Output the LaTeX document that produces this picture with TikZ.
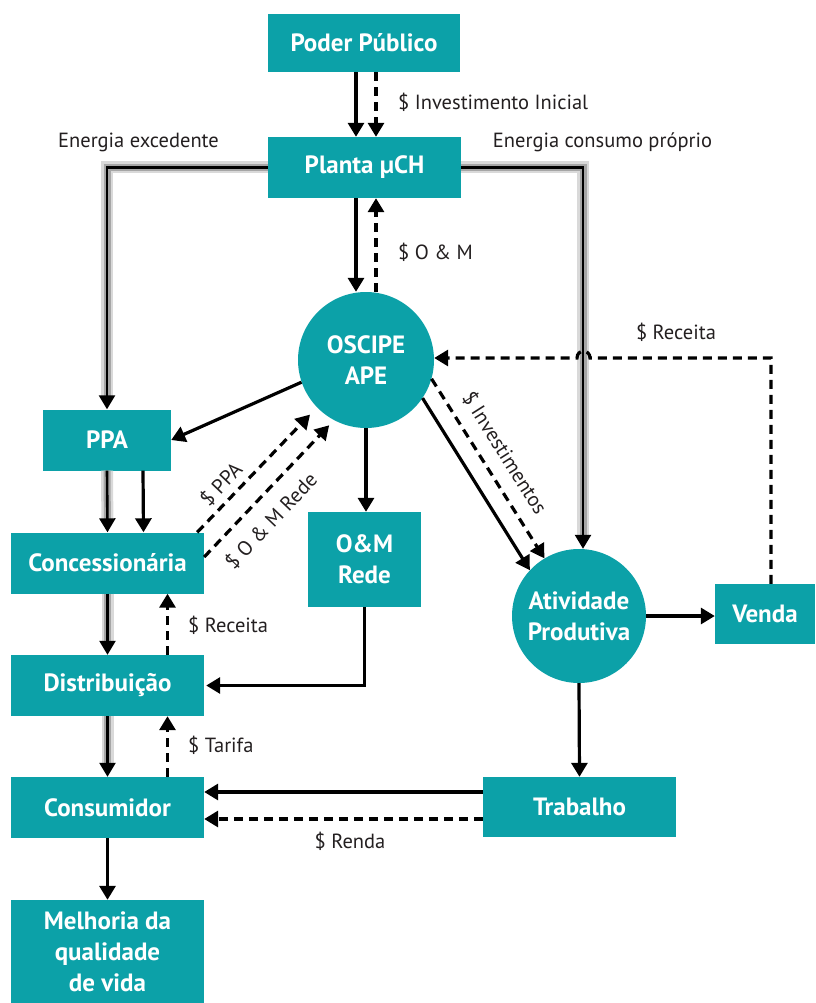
\documentclass[tikz,border=0pt]{standalone}
\usepackage{fontspec}
\setmainfont{PT Sans}
\usetikzlibrary{arrows.meta}
\definecolor{tealbox}{HTML}{0CA1A8}
\definecolor{ink}{HTML}{231F20}

\begin{document}
\begin{tikzpicture}[x=1pt,y=-1pt,
  box/.style={fill=tealbox, text=white, font=\bfseries\fontsize{25}{31}\selectfont,
    align=center, inner sep=0pt},
  circ/.style={circle, fill=tealbox, text=white, font=\bfseries\fontsize{25}{31}\selectfont,
    align=center, inner sep=0pt, minimum size=136pt},
  lbl/.style={text=ink, font=\fontsize{20.5}{24}\selectfont, inner sep=0pt},
  tip/.style={-{Triangle[length=14pt,width=16pt]}},
  flow/.style={draw=black, line width=3.2pt, tip},
  money/.style={flow, dash pattern=on 9pt off 6pt},
  energy/.style={
    preaction={draw=black!15, line width=12pt, -, shorten >=13pt},
    preaction={draw=black!35, line width=7pt, -, shorten >=13pt},
    flow, line width=2.6pt},
]
\useasboundingbox (0,0) rectangle (815,1003);

% boxes and circles
\node[box, minimum width=192pt, minimum height=58pt] (poder) at (364,43) {Poder Público};
\node[box, minimum width=193pt, minimum height=61pt] (planta) at (364.5,167.5) {Planta µCH};
\node[circ] (osc) at (366,360) {OSCIPE\\APE};
\node[box, minimum width=128pt, minimum height=61pt] (ppa) at (107,440) {PPA};
\node[box, minimum width=193pt, minimum height=61pt] (conc) at (107.5,563) {Concessionária};
\node[box, minimum width=113pt, minimum height=95pt] (om) at (364.5,559.5) {O\&M\\Rede};
\node[box, minimum width=193pt, minimum height=61pt] (dist) at (107.5,685.5) {Distribuição};
\node[box, minimum width=193pt, minimum height=61pt] (cons) at (107.5,807.5) {Consumidor};
\node[box, minimum width=193pt, minimum height=103pt] (melh) at (107.5,951.5) {Melhoria da\\qualidade\\de vida};
\node[circ, minimum size=134pt] (act) at (579,616) {Atividade\\Produtiva};
\node[box, minimum width=100pt, minimum height=60pt] (venda) at (765,614) {Venda};
\node[box, minimum width=193pt, minimum height=60pt] (trab) at (579.5,807) {Trabalho};

% free labels
\node[lbl, anchor=west] (linv) at (398,102) {\$ Investimento Inicial};
\node[lbl, anchor=west] (lom) at (398,252) {\$ O \& M};
\node[lbl] (lexc) at (138.5,142) {Energia excedente};
\node[lbl] (lcons) at (602.5,142) {Energia consumo próprio};
\node[lbl] (lrec) at (676,332) {\$ Receita};
\node[lbl, anchor=west] (lrec2) at (188,625) {\$ Receita};
\node[lbl, anchor=west] (ltar) at (188,745) {\$ Tarifa};
\node[lbl] (lren) at (350,841) {\$ Renda};
\node[lbl, rotate=46.5] (lppa) at (221,484) {\$ PPA};
\node[lbl, rotate=46.5] (lomr) at (271,521) {\$ O \& M Rede};
\node[lbl, rotate=-57.7] (linvs) at (505,453) {\$ Investimentos};

% energy flows (shaded lines)
\draw[energy] (planta.west) -| (ppa.north);
\draw[energy] (planta.east) -| ([xshift=4pt]act.north);
\draw[energy] (ppa.south) -- (conc.north);
\draw[energy] (conc.south) -- (dist.north);
\draw[energy] (dist.south) -- (cons.north);

% material flows
\draw[flow] ([xshift=-8pt]poder.south) -- ([xshift=-8.5pt]planta.north);
\draw[money] ([xshift=12pt]poder.south) -- ([xshift=11.5pt]planta.north);
\draw[flow] ([xshift=-8.5pt]planta.south) -- ([xshift=-10pt]osc.north);
\draw[money] ([xshift=10pt]osc.north) -- ([xshift=11.5pt]planta.south);
\draw[flow] (osc.199) -- (ppa.east);
\draw[flow] ([xshift=36pt]ppa.south) -- ([xshift=36pt]conc.north);
\draw[money, shorten >=10pt] ([xshift=-7pt]conc.north east) -- (osc.224);
\draw[money, shorten >=7pt] ([yshift=6pt]conc.east) -- (osc.242);
\draw[flow] (osc.south) -- (osc.south |- om.north);
\draw[flow, shorten >=2pt] (om.south) |- (dist.east);
\draw[money] ([xshift=60pt]dist.north) -- ([xshift=60pt]conc.south);
\draw[money] ([xshift=60pt]cons.north) -- ([xshift=60pt]dist.south);
\draw[flow] (osc.326) -- (act.137);
\draw[money] (osc.344) -- (act.121);
\draw[flow] (act.east) -- (venda.west |- act.east);
\draw[flow] (act.south) -- (trab.north);
\draw[money] ([xshift=6pt]venda.north) |- (590,358)
  .. controls (590,349) and (577,349) .. (577,358) -- (osc.east |- 0,358);
\draw[flow] ([yshift=15pt]trab.west) -- ([yshift=15pt]trab.west -| cons.east);
\draw[money] ([yshift=-12pt]trab.west) -- ([yshift=-12pt]trab.west -| cons.east);
\draw[flow] (cons.south) -- (melh.north);
\end{tikzpicture}
\end{document}
